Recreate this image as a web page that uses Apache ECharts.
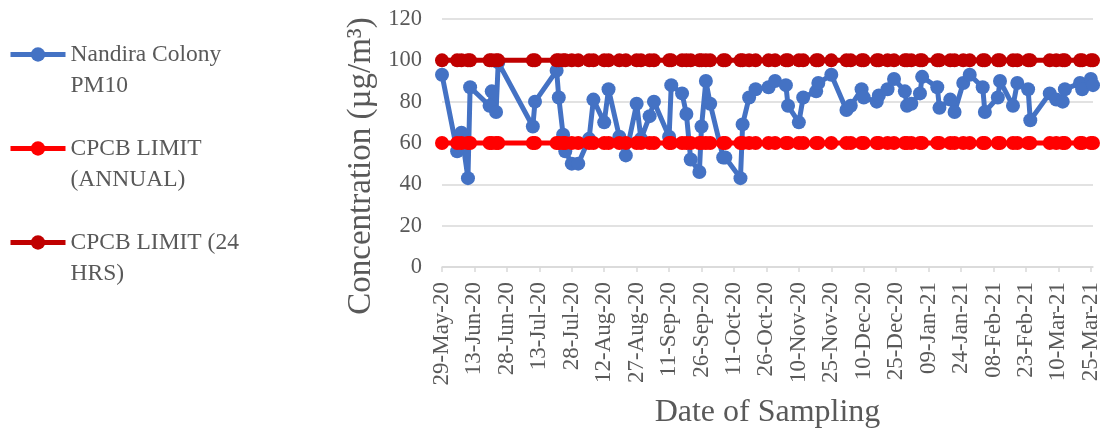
<!DOCTYPE html>
<html>
<head>
<meta charset="utf-8">
<script src="https://cdn.jsdelivr.net/npm/echarts@6/dist/echarts.min.js"></script>
<style>
html,body{margin:0;padding:0;background:#fff;}
#chart{width:1104px;height:435px;}
</style>
</head>
<body>
<div id="chart"></div>
<script>
// ---- data ----
const sampleDates = [
 '2020-05-29','2020-06-05','2020-06-07','2020-06-10','2020-06-11','2020-06-20','2020-06-21','2020-06-23','2020-06-24',
 '2020-07-10','2020-07-11','2020-07-21','2020-07-22','2020-07-24','2020-07-25','2020-07-28','2020-07-31',
 '2020-08-05','2020-08-07','2020-08-12','2020-08-14','2020-08-19','2020-08-22','2020-08-27','2020-08-29',
 '2020-09-02','2020-09-04','2020-09-11','2020-09-12','2020-09-17','2020-09-19','2020-09-21','2020-09-25','2020-09-26','2020-09-28','2020-09-30',
 '2020-10-06','2020-10-07','2020-10-14','2020-10-15','2020-10-18','2020-10-21','2020-10-27','2020-10-30',
 '2020-11-04','2020-11-05','2020-11-10','2020-11-12','2020-11-18','2020-11-19','2020-11-25',
 '2020-12-02','2020-12-04','2020-12-09','2020-12-10','2020-12-16','2020-12-17','2020-12-21','2020-12-24','2020-12-29','2020-12-30',
 '2021-01-01','2021-01-05','2021-01-06','2021-01-13','2021-01-14','2021-01-19','2021-01-21','2021-01-25','2021-01-28',
 '2021-02-03','2021-02-04','2021-02-10','2021-02-11','2021-02-17','2021-02-19','2021-02-24','2021-02-25',
 '2021-03-06','2021-03-09','2021-03-12','2021-03-13','2021-03-20','2021-03-21','2021-03-25','2021-03-26'
];
const pm10 = [
 93,56,65,43,87,78,85,75,99,
 68,80,95,82,64,56,50,50,
 62,81,70,86,63,54,79,62,
 73,80,63,88,84,74,52,46,68,90,79,
 53,53,43,69,82,86,87,90,
 88,78,70,82,85,89,93,
 76,78,86,82,80,83,86,91,85,78,
 79,84,92,87,77,81,75,89,93,
 87,75,82,90,78,89,86,71,
 84,81,80,86,89,86,91,88
];
const limitAnnual = 60;
const limit24h = 100;
const seriesNames = ['Nandira Colony\nPM10', 'CPCB LIMIT\n(ANNUAL)', 'CPCB LIMIT (24\nHRS)'];
const axisStartDate = '2020-05-29';
const axisEndDate = '2021-03-26';
const tickStepDays = 15;
const yTicks = [0, 20, 40, 60, 80, 100, 120];
const monthNames = ['Jan','Feb','Mar','Apr','May','Jun','Jul','Aug','Sep','Oct','Nov','Dec'];

// ---- helpers ----
const DAY = 86400000;
const t0 = Date.parse(axisStartDate + 'T00:00:00Z');
function dayNum(s){ return Math.round((Date.parse(s + 'T00:00:00Z') - t0) / DAY); }
function fmtDay(v){
  const d = new Date(t0 + v * DAY);
  const dd = String(d.getUTCDate()).padStart(2, '0');
  const yy = String(d.getUTCFullYear()).slice(2);
  return dd + '-' + monthNames[d.getUTCMonth()] + '-' + yy;
}
const xs = sampleDates.map(dayNum);
const pmData = xs.map((x, i) => [x, pm10[i]]);
const annData = xs.map(x => [x, limitAnnual]);
const dayData = xs.map(x => [x, limit24h]);

const FONT = '"Liberation Serif", "Times New Roman", serif';
const GREY = '#595959';

const chart = echarts.init(document.getElementById('chart'), null, {renderer: 'canvas'});
function mkSeries(name, data, color, z){
  return {
    name: name, type: 'line', data: data, z: z,
    symbol: 'circle', symbolSize: 14,
    itemStyle: {color: color},
    lineStyle: {color: color, width: 5},
    animation: false
  };
}
chart.setOption({
  animation: false,
  textStyle: {fontFamily: FONT},
  grid: {left: 442, right: 11, top: 19, bottom: 168, containLabel: false, outerBoundsMode: 'none'},
  legend: {
    orient: 'vertical', left: 3, top: 3,
    itemWidth: 55, itemHeight: 18, itemGap: 1,
    data: seriesNames,
    formatter: n => '\n' + n,
    lineStyle: {width: 5},
    textStyle: {fontFamily: FONT, fontSize: 23.5, color: GREY, lineHeight: 31}
  },
  xAxis: {
    type: 'value', min: 0, max: dayNum(axisEndDate), interval: tickStepDays,
    name: 'Date of Sampling', nameLocation: 'middle', nameGap: 130,
    nameTextStyle: {fontFamily: FONT, fontSize: 32, color: GREY},
    axisLine: {show: true, lineStyle: {color: '#D9D9D9', width: 1.5}},
    axisTick: {show: true, length: 5, lineStyle: {color: '#D9D9D9', width: 1.5}},
    splitLine: {show: false},
    axisLabel: {
      rotate: 90, margin: 15, fontFamily: FONT, fontSize: 23, color: GREY,
      showMaxLabel: false,
      formatter: v => (v % tickStepDays === 0 ? fmtDay(v) : '')
    }
  },
  yAxis: {
    type: 'value', min: yTicks[0], max: yTicks[yTicks.length - 1], interval: yTicks[1] - yTicks[0],
    name: 'Concentration (µg/m³)', nameLocation: 'middle', nameGap: 59,
    nameTextStyle: {fontFamily: FONT, fontSize: 33, color: GREY, padding: [0, 46, 0, 0]},
    axisLine: {show: false}, axisTick: {show: false},
    splitLine: {lineStyle: {color: '#D9D9D9', width: 1.5}},
    axisLabel: {margin: 20, fontFamily: FONT, fontSize: 22.5, color: GREY}
  },
  series: [
    mkSeries(seriesNames[0], pmData, '#4472C4', 2),
    mkSeries(seriesNames[1], annData, '#FF0000', 3),
    mkSeries(seriesNames[2], dayData, '#C00000', 4)
  ]
});
</script>
</body>
</html>
